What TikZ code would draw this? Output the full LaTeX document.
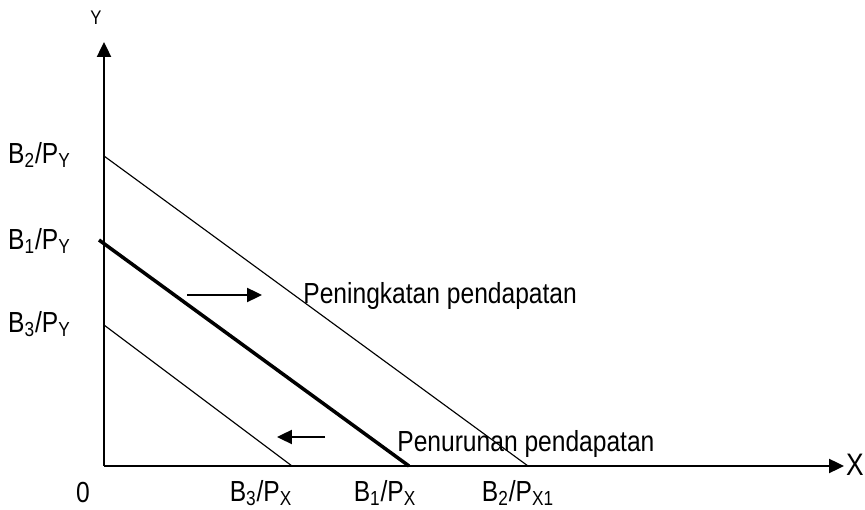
\documentclass[tikz,border=0pt]{standalone}
\usepackage{fontspec}
\setmainfont{Liberation Sans}
\usetikzlibrary{positioning,arrows.meta}

\begin{document}
\begin{tikzpicture}[x=0.02cm,y=0.02cm,>={Triangle[length=8.5pt,width=8pt]},
    axis line/.style={line width=1.1pt},
    budget line/.style={line width=0.65pt},
    main budget/.style={line width=2pt},
    shift arrow/.style={->,line width=1.1pt},
    tick label/.style={inner sep=0pt,yscale=1.18,transform shape,font=\fontsize{14}{16}\selectfont},
    axis name/.style={inner sep=0pt,yscale=1.18,transform shape,font=\fontsize{9.5}{11}\selectfont}]
                \useasboundingbox (0,0) rectangle (865,510);

                % axes
                \coordinate (origin) at (104,44);
                \coordinate (ytip) at (104,468);
                \coordinate (xtip) at (844,44);
                \draw[axis line,->] (origin) -- (ytip);
                \draw[axis line,->] (origin) -- (xtip);
                \node[axis name] (ylab) at (96,492) {Y};
                \node[tick label,font=\fontsize{15}{17}\selectfont] (xlab) at (855,45) {X};
                \node[tick label] (zero) at (83,17) {0};

                % intercepts
                \coordinate (b2y) at (104,354);
                \coordinate (b1y) at (99,270);
                \coordinate (b3y) at (104,185);
                \coordinate (b2x) at (528,44);
                \coordinate (b1x) at (409,44);
                \coordinate (b3x) at (292,44);

                \draw[budget line] (b2y) -- (b2x);
                \draw[main budget] (b1y) -- (b1x);
                \draw[budget line] (b3y) -- (b3x);

                \node[tick label,anchor=east] (lb2y) at (71,355) {B\textsubscript{2}/P\textsubscript{Y}};
                \node[tick label,anchor=east] (lb1y) at (71,269) {B\textsubscript{1}/P\textsubscript{Y}};
                \node[tick label,anchor=east] (lb3y) at (71,186) {B\textsubscript{3}/P\textsubscript{Y}};
                \node[tick label] (lb3x) at (261,17) {B\textsubscript{3}/P\textsubscript{X}};
                \node[tick label] (lb1x) at (385,17) {B\textsubscript{1}/P\textsubscript{X}};
                \node[tick label] (lb2x) at (518,17) {B\textsubscript{2}/P\textsubscript{X1}};

                % shifts
                \coordinate (up1) at (187,215);
                \coordinate (up2) at (262,215);
                \coordinate (dn1) at (325,73);
                \coordinate (dn2) at (277,73);
                \draw[shift arrow] (up1) -- (up2);
                \draw[shift arrow] (dn1) -- (dn2);
                \node[tick label,anchor=west] (naik) at (303,214) {Peningkatan pendapatan};
                \node[tick label,anchor=west] (turun) at (397,66) {Penurunan pendapatan};
            \end{tikzpicture}
\end{document}
